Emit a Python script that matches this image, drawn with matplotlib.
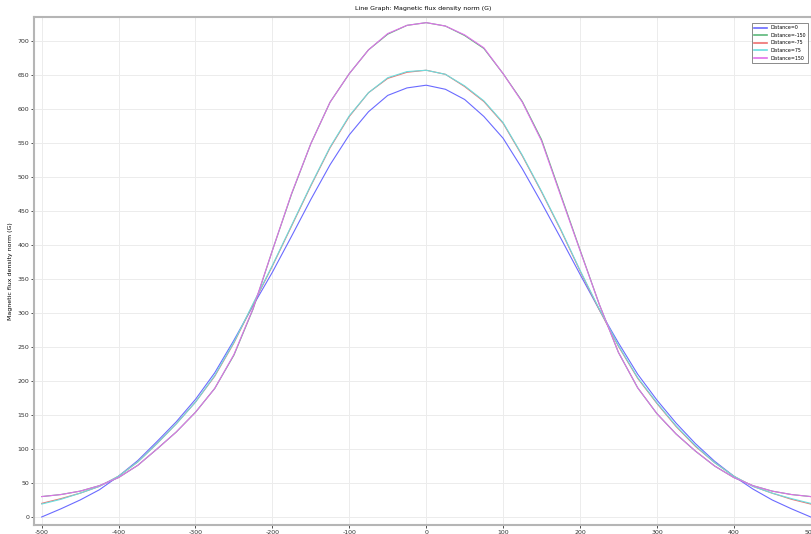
import matplotlib.pyplot as plt

plt.rcParams['axes.unicode_minus'] = False

# distance positions (sampled every 25)
distance = [-500, -475, -450, -425, -400, -375, -350, -325, -300, -275, -250,
            -225, -200, -175, -150, -125, -100, -75, -50, -25, 0,
            25, 50, 75, 100, 125, 150, 175, 200, 225, 250,
            275, 300, 325, 350, 375, 400, 425, 450, 475, 500]

# Distance=0
b_0 = [0, 12, 25, 40, 60, 83, 111, 140, 173, 212, 260,
       311, 360, 413, 467, 518, 562, 596, 620, 631, 635,
       629, 614, 589, 557, 512, 462, 410, 357, 305, 256,
       210, 172, 138, 108, 82, 60, 41, 25, 12, 0]

# Distance=-75 / Distance=75
b_m75 = [20, 27, 35, 45, 60, 81, 108, 137, 169, 207, 256,
         313, 369, 428, 487, 543, 589, 624, 645, 654, 657,
         651, 633, 611, 579, 531, 478, 422, 362, 305, 251,
         204, 167, 133, 104, 80, 60, 45, 35, 26, 19]
b_p75 = [19, 26, 35, 45, 60, 81, 108, 137, 169, 208, 257,
         314, 370, 429, 488, 544, 590, 624, 646, 655, 657,
         651, 634, 612, 580, 532, 479, 423, 363, 306, 252,
         205, 168, 134, 105, 80, 60, 45, 35, 27, 20]

# Distance=-150 / Distance=150
b_m150 = [30, 33, 38, 46, 58, 76, 100, 125, 154, 189, 238,
          306, 392, 475, 549, 610, 652, 687, 710, 723, 727,
          722, 708, 689, 652, 611, 555, 474, 393, 313, 242,
          190, 152, 122, 97, 75, 58, 46, 38, 33, 30]
b_p150 = [30, 33, 38, 46, 58, 76, 100, 125, 154, 189, 239,
          307, 392, 476, 549, 610, 652, 687, 711, 723, 727,
          722, 709, 690, 652, 610, 553, 472, 392, 313, 242,
          190, 152, 122, 97, 75, 58, 46, 38, 33, 30]

series = [("Distance=0", b_0, "#6a6aff"),
          ("Distance=-150", b_m150, "#5cb87a"),
          ("Distance=-75", b_m75, "#ee6f6f"),
          ("Distance=75", b_p75, "#6adede"),
          ("Distance=150", b_p150, "#e070ea")]

fig = plt.figure(figsize=(8.12, 5.34), dpi=100)
ax = fig.add_axes([34 / 812, 9 / 534, 778 / 812, 508 / 534])

for name, vals, col in series:
    ax.plot(distance, vals, color=col, lw=0.8, label=name)

ax.set_xlim(-510, 501.7)
ax.set_ylim(-11.8, 735.3)
ax.set_xticks(range(-500, 501, 100))
ax.set_yticks(range(0, 701, 50))
ax.grid(True, color="#ececec", lw=0.7)
ax.set_axisbelow(True)

for s in ax.spines.values():
    s.set_color("#b5b5b5")
    s.set_linewidth(1.5)
ax.tick_params(labelsize=4.5, colors="#333333", length=2, width=0.6, pad=1.5)

# small inward ticks along the top edge
top = ax.secondary_xaxis('top')
top.set_xticks(range(-500, 501, 100))
top.tick_params(direction='in', length=2, width=0.6, colors="#555555", labeltop=False)
top.spines['top'].set_visible(False)

ax.set_title("Line Graph: Magnetic flux density norm (G)", fontsize=4.5, pad=5)
ax.set_xlabel("distance", fontsize=4.2, labelpad=-0.8)
ax.set_ylabel("Magnetic flux density norm (G)", fontsize=4.5, labelpad=3)

leg = ax.legend(loc="upper right", fontsize=3.4, frameon=True, fancybox=False,
                edgecolor="#555555", handlelength=2.8, borderpad=0.5,
                labelspacing=0.55, handletextpad=0.6,
                bbox_to_anchor=(0.998, 0.993))
leg.get_frame().set_linewidth(0.6)
for h in leg.get_lines():
    h.set_linewidth(1.2)

fig.savefig("out.png", dpi=100)
